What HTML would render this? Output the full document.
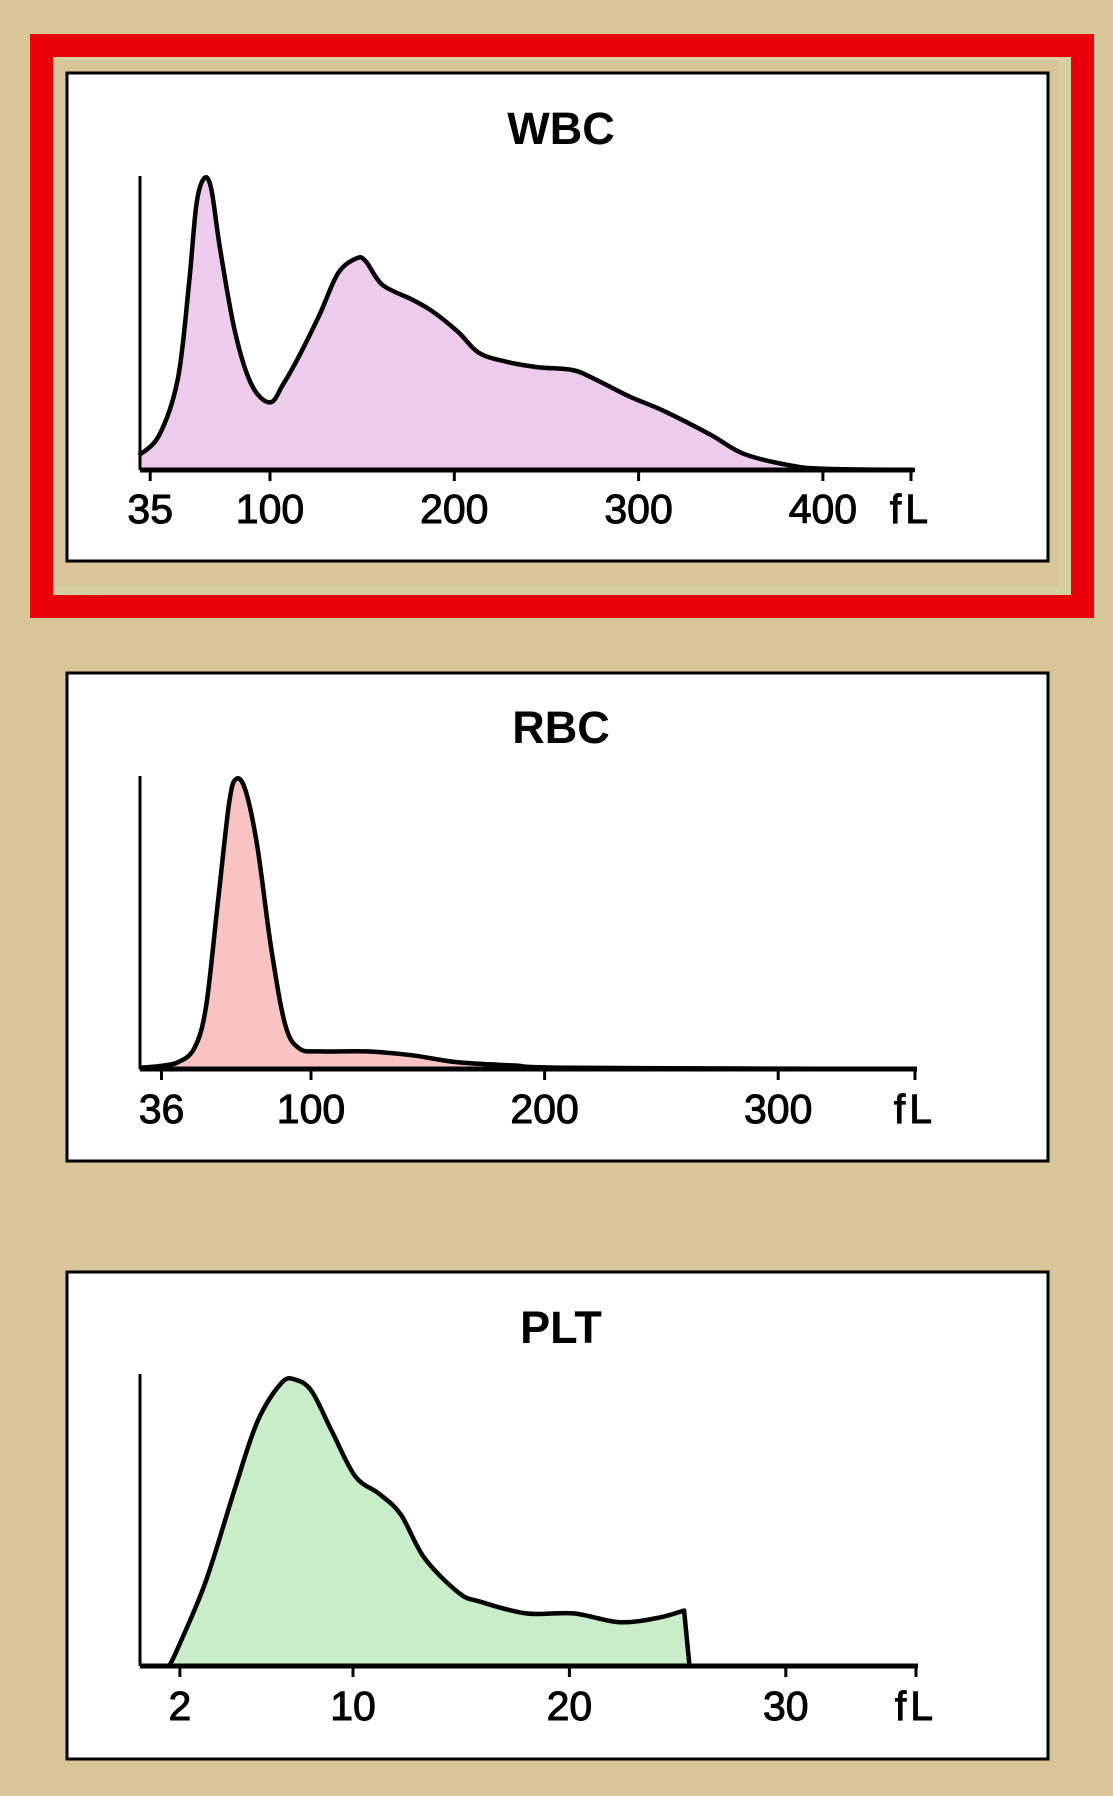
<!DOCTYPE html>
<html><head><meta charset="utf-8">
<style>
html,body{margin:0;padding:0;background:#d8c598;}
svg{display:block}
text{font-family:"Liberation Sans",sans-serif;fill:#000}
</style></head>
<body>
<svg id="svg" width="1113" height="1796" viewBox="0 0 1113 1796" xmlns="http://www.w3.org/2000/svg">
<rect x="0" y="0" width="1113" height="1796" fill="#d8c598"/>
<rect x="41.5" y="45.5" width="1041" height="561" fill="#d5cfa2" stroke="#e8000a" stroke-width="23"/>
<rect x="56" y="60" width="1003" height="527" fill="#d8c598"/>
<g id="charts"></g>
</svg>
<script>
// WBC data (fL, relative height %)
const wbcX=[29,40,50,56,60,64,68,73,81,90,100,107,116,127,137,147,152,161,177,188,202,213,227,245,264,276,295,314,339,357,382,401,450];
const wbcY=[5,12,31,63,90,99,96,75,47,29,23,29,39,53,67,72,71,63,58,54,47,40,37,35,34,31,25,20,12,5.5,1.6,0.4,0];
const wbcTicks=[35,100,200,300,400];
// RBC data
const rbcX=[26.5,35,43,50,55,60,65,68,72,77,83,89,95,104,124,143,163,187,212,359];
const rbcY=[0.4,1,2.3,7,21,56,91,99,95,76,41,15,7,6,6,4.7,2.3,1.2,0.4,0];
const rbcTicks=[36,100,200,300];
// PLT data (last three points: sharp cut-off then flat)
const pltX=[1.5,1.9,3.2,4.55,5.6,6.7,7.35,8.1,9.05,10.1,11.2,12.2,13.3,14.9,15.9,18.0,20.2,22.3,24.1,25.3];
const pltY=[0,6,29,61,84,97,98,94,80,65,59,52,37,25,22,18,18,15,16.5,19];
const pltCutX=[25.55,36.1];
const pltTicks=[2,10,20,30];

const NS="http://www.w3.org/2000/svg";
const root=document.getElementById('charts');
function mk(tag,attrs,parent){const e=document.createElementNS(NS,tag);for(const k in attrs)e.setAttribute(k,attrs[k]);(parent||root).appendChild(e);return e;}

const panels=[
 {name:'wbc',title:'WBC',xs:wbcX,ys:wbcY,tail:[],ticks:wbcTicks,fill:'#eccbec',top:72,bottom:562,titleY:128,base:470,axTop:176,x0:140,x1:913,ref:100,refPx:270,k:1.843,labelY:508},
 {name:'rbc',title:'RBC',xs:rbcX,ys:rbcY,tail:[],ticks:rbcTicks,fill:'#f9c3c3',top:672,bottom:1162,titleY:727,base:1069,axTop:776,x0:140,x1:917,ref:100,refPx:311,k:2.336,labelY:1108},
 {name:'plt',title:'PLT',xs:pltX,ys:pltY,tail:pltCutX,ticks:pltTicks,fill:'#c9ecc9',top:1271,bottom:1760,titleY:1327,base:1666,axTop:1374,x0:140,x1:918,ref:10,refPx:353,k:21.64,labelY:1705}
];

function pathFrom(pts){
  let d='M'+pts[0][0].toFixed(1)+','+pts[0][1].toFixed(1);
  for(let i=0;i<pts.length-1;i++){
    const p0=pts[i-1]||pts[i],p1=pts[i],p2=pts[i+1],p3=pts[i+2]||p2;
    const c1=[p1[0]+(p2[0]-p0[0])/6,p1[1]+(p2[1]-p0[1])/6];
    const c2=[p2[0]-(p3[0]-p1[0])/6,p2[1]-(p3[1]-p1[1])/6];
    d+=' C'+c1[0].toFixed(1)+','+c1[1].toFixed(1)+' '+c2[0].toFixed(1)+','+c2[1].toFixed(1)+' '+p2[0].toFixed(1)+','+p2[1].toFixed(1);
  }
  return d;
}

panels.forEach(p=>{
  const g=mk('g',{});
  
  
  const xS=v=>p.refPx+(v-p.ref)*p.k;
  const yS=v=>p.base-(v/100)*(p.base-p.axTop);
  const bg=mk('rect',{x:67,y:p.top+1,width:981,height:p.bottom-p.top-2,fill:'#fff',stroke:'#000','stroke-width':3},g);
  
  
  const t=mk('text',{x:561,y:p.titleY+16,'text-anchor':'middle','font-size':45,'font-weight':'bold'},g);
  t.textContent=p.title;
  
  
  const pts=p.xs.map((v,i)=>[xS(v),yS(p.ys[i])]);
  let d=pathFrom(pts);
  p.tail.forEach(v=>{d+=' L'+xS(v).toFixed(1)+','+p.base;});
  const lastX=p.tail.length?xS(p.tail[p.tail.length-1]):pts[pts.length-1][0];
  const area=mk('path',{d:d+' L'+lastX.toFixed(1)+','+p.base+' L'+pts[0][0].toFixed(1)+','+p.base+' Z',fill:p.fill,stroke:'none'},g);
  
  
  const line=mk('path',{d:d,fill:'none',stroke:'#000','stroke-width':4.5,'stroke-linejoin':'round'},g);
  
  
  const ya=mk('line',{x1:p.x0,y1:p.axTop,x2:p.x0,y2:p.base,stroke:'#000','stroke-width':3},g);
  
  
  const xa=mk('line',{x1:p.x0,y1:p.base,x2:p.x1,y2:p.base,stroke:'#000','stroke-width':5},g);
  
  
  p.ticks.forEach(v=>{
    const x=xS(v);
    const tk=mk('line',{x1:x,y1:p.base,x2:x,y2:p.base+11,stroke:'#000','stroke-width':3},g);
    
    
    const lb=mk('text',{x:x,y:p.labelY+15,'text-anchor':'middle','font-size':41,stroke:'#000','stroke-width':1},g);
    lb.textContent=String(v);
    
    
  });
  const et=mk('line',{x1:p.x1-2,y1:p.base,x2:p.x1-2,y2:p.base+11,stroke:'#000','stroke-width':3},g);
  
  
  const u=mk('text',{x:p.x1-2,y:p.labelY+15,'text-anchor':'middle','font-size':41,stroke:'#000','stroke-width':1,'letter-spacing':4},g);
  u.textContent='fL';
  
  
});
</script>
</body></html>
